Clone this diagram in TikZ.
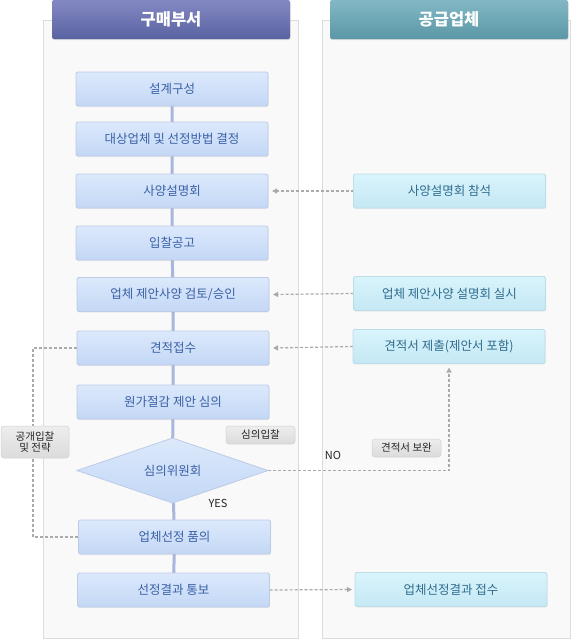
\documentclass[tikz,border=0pt]{standalone}
\usepackage{fontspec}
\setmainfont{Noto Sans CJK KR}
\usetikzlibrary{arrows.meta,shapes.geometric,shadows}
\pgfdeclarelayer{panel}
\pgfdeclarelayer{spine}
\pgfsetlayers{panel,spine,main}
\definecolor{panelfill}{HTML}{F9F9F9}
\definecolor{paneldraw}{HTML}{DCDCDC}
\definecolor{lbtop}{HTML}{DCE9FC}
\definecolor{lbbot}{HTML}{C3D7F5}
\definecolor{lbdraw}{HTML}{BCCBE6}
\definecolor{lbtext}{HTML}{3A60A6}
\definecolor{rbtop}{HTML}{D9F4FC}
\definecolor{rbbot}{HTML}{C4E8F4}
\definecolor{rbdraw}{HTML}{BCDDE8}
\definecolor{rbtext}{HTML}{2F6C8E}
\definecolor{spinec}{HTML}{A9B5DD}
\definecolor{dashc}{HTML}{AAAAAA}
\definecolor{hltop}{HTML}{8289C2}
\definecolor{hlbot}{HTML}{5A63A2}
\definecolor{hrtop}{HTML}{82B8C4}
\definecolor{hrbot}{HTML}{5B97A6}
\tikzset{
  x=1pt, y=-1pt,
  every node/.style={inner sep=0pt, outer sep=0pt},
  header/.style={minimum width=238pt, minimum height=39pt, rounded corners=2pt,
    font=\fontsize{16.5}{18}\selectfont\bfseries, text=white,
    drop shadow={opacity=0.25, shadow xshift=0.6pt, shadow yshift=-1.2pt}},
  lbox/.style={minimum width=192pt, minimum height=34pt, rounded corners=1.5pt,
    top color=lbtop, bottom color=lbbot, draw=lbdraw, line width=0.8pt,
    font=\fontsize{12.5}{14}\selectfont, text=lbtext,
    drop shadow={opacity=0.12, shadow xshift=0.5pt, shadow yshift=-1pt}},
  rbox/.style={minimum width=192pt, minimum height=34pt, rounded corners=1.5pt,
    top color=rbtop, bottom color=rbbot, draw=rbdraw, line width=0.8pt,
    font=\fontsize{12.5}{14}\selectfont, text=rbtext,
    drop shadow={opacity=0.12, shadow xshift=0.5pt, shadow yshift=-1pt}},
  decision/.style={diamond, aspect=2.94, minimum width=191pt, minimum height=65pt,
    top color=lbtop, bottom color=lbbot, draw=lbdraw, line width=0.8pt,
    font=\fontsize{12.5}{14}\selectfont, text=lbtext},
  tag/.style={rounded corners=3pt, top color=white!93!black, bottom color=white!86!black,
    draw=white!82!black, line width=0.5pt, font=\fontsize{10.5}{12}\selectfont,
    text=black!85, align=center},
  plain/.style={font=\fontsize{11}{13}\selectfont, text=black!85},
  spineline/.style={draw=spinec, line width=3pt},
  flow/.style={draw=dashc, line width=1.2pt, dash pattern=on 3pt off 2pt},
  flowarrow/.style={flow, -{Triangle[length=5pt,width=5pt]}},
}
\begin{document}
\begin{tikzpicture}
\useasboundingbox (0,0) rectangle (577,640);
% panels
\begin{pgfonlayer}{panel}
\fill[white] (0,0) rectangle (577,640);
\path[fill=panelfill, draw=paneldraw, line width=0.8pt] (43,20) rectangle (298,638);
\path[fill=panelfill, draw=paneldraw, line width=0.8pt] (322,20) rectangle (570,638);
\end{pgfonlayer}
% headers
\node[header, top color=hltop, bottom color=hlbot] (hl) at (171,19.5) {구매부서};
\node[header, top color=hrtop, bottom color=hrbot] (hr) at (449,19.5) {공급업체};
% left boxes
\node[lbox] (b1) at (172,89) {설계구성};
\node[lbox] (b2) at (172,139) {대상업체 및 선정방법 결정};
\node[lbox] (b3) at (172,191) {사양설명회};
\node[lbox] (b4) at (172,243) {입찰공고};
\node[lbox] (b5) at (173,294.5) {업체 제안사양 검토/승인};
\node[lbox] (b6) at (173,348) {견적접수};
\node[lbox] (b7) at (173,402) {원가절감 제안 심의};
\node[decision] (d1) at (172.5,470.5) {심의위원회};
\node[lbox] (b8) at (174.5,537) {업체선정 품의};
\node[lbox] (b9) at (173.5,590) {선정결과 통보};
% right boxes
\node[rbox] (r1) at (449.5,191) {사양설명회 참석};
\node[rbox] (r2) at (449.5,293.5) {업체 제안사양 설명회 실시};
\node[rbox] (r3) at (449,346.5) {견적서 제출(제안서 포함)};
\node[rbox] (r4) at (451,589.5) {업체선정결과 접수};
% tags and labels
\node[tag, minimum width=68pt, minimum height=32pt] (t1) at (35,442) {공개입찰\\[-1pt]및 전략};
\node[tag, minimum width=69pt, minimum height=18pt] (t2) at (260.5,435) {심의입찰};
\node[tag, minimum width=69pt, minimum height=18pt] (t3) at (406.5,448) {견적서 보완};
\node[plain] (yes) at (218,503) {YES};
\node[plain] (no) at (333,455) {NO};
% spine and dashed flows
\begin{pgfonlayer}{spine}
\draw[spineline] (b1) -- (b2) -- (b3) -- (b4) -- (b5) -- (b6) -- (b7) -- (d1) -- (b8) -- (b9);
\draw[flowarrow] (r1.west) -- ([xshift=4pt]b3.east);
\draw[flowarrow] (r2.west) -- ([xshift=4pt]b5.east);
\draw[flowarrow] (r3.west) -- ([xshift=4pt]b6.east);
\draw[flowarrow] (d1.east) -| ([yshift=-4pt]r3.south);
\draw[flow] (b6.west) -- ++(-44,0) |- (b8.west);
\draw[flowarrow] (b9.east) -- ([xshift=-3pt]r4.west);
\end{pgfonlayer}
\end{tikzpicture}
\end{document}
